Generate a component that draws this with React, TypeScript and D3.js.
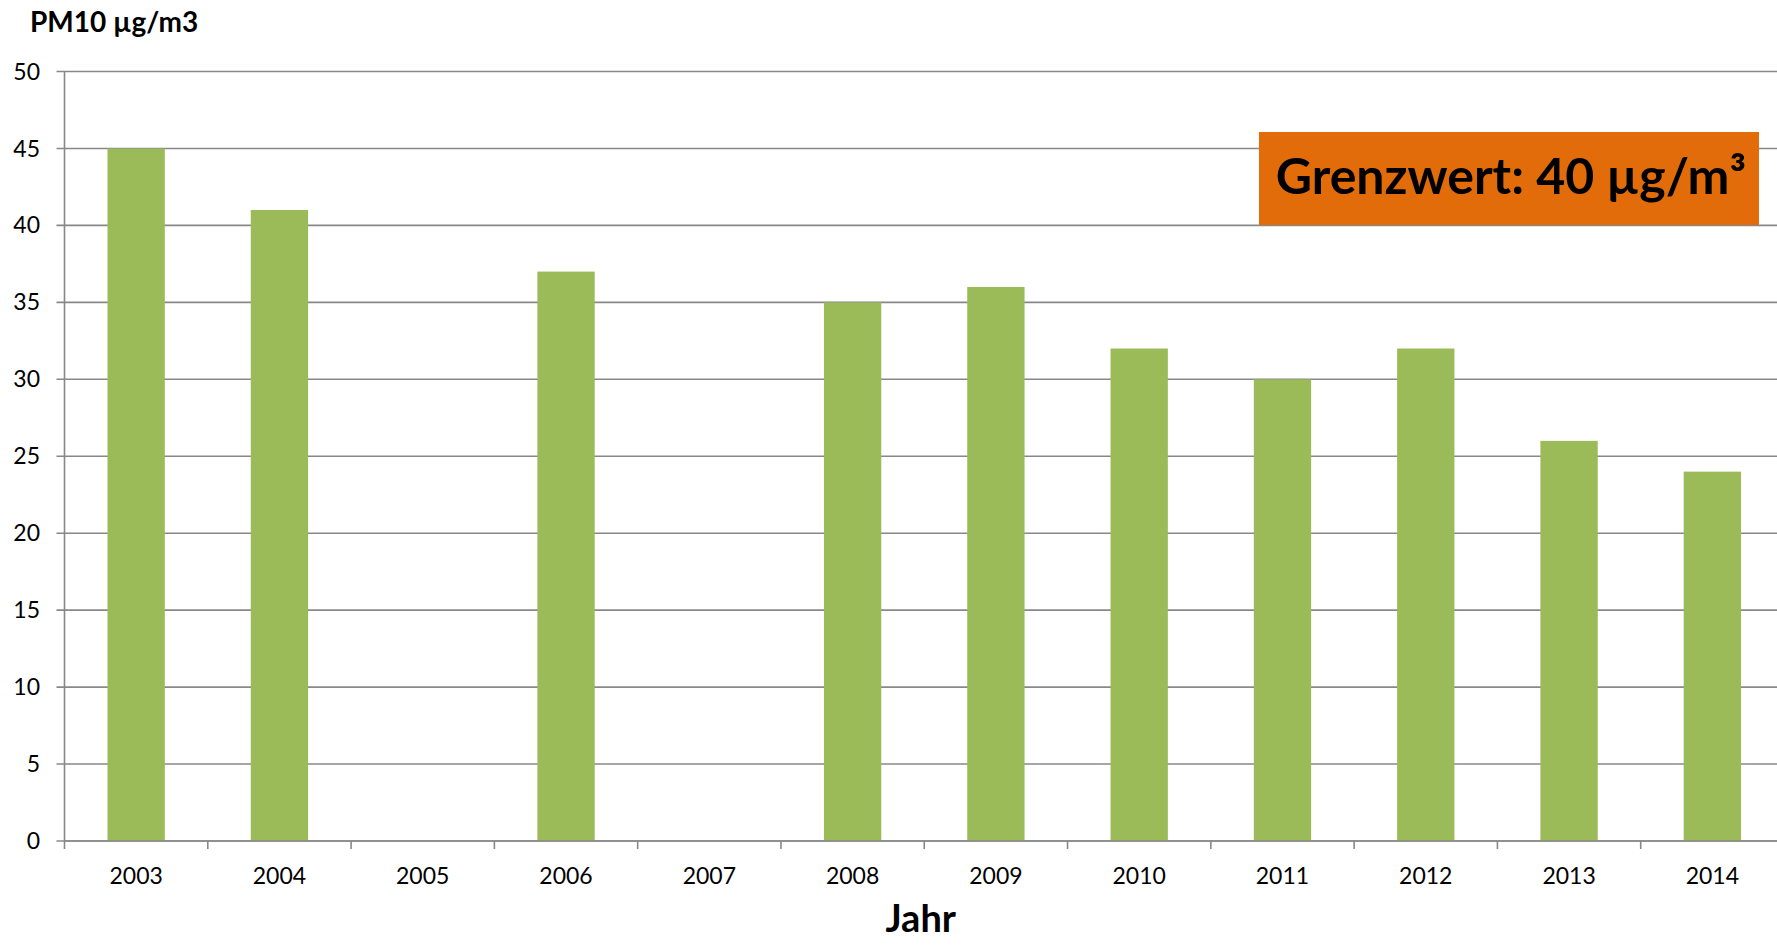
import { useMemo } from "react";
import * as d3 from "d3";

// PM10 annual mean by year; null = no measurement that year
const YEARS = ["2003", "2004", "2005", "2006", "2007", "2008", "2009", "2010", "2011", "2012", "2013", "2014"];
const PM10: (number | null)[] = [45, 41, null, 37, null, 35, 36, 32, 30, 32, 26, 24];
const Y_TICKS = [0, 5, 10, 15, 20, 25, 30, 35, 40, 45, 50];

const W = 1777;
const H = 945;
// the plot area runs a few pixels past the right edge of the image
const PLOT_RIGHT = 1784;
const M = { top: 71.5, bottom: 104, left: 64.5 };
const FONT = "Lato, 'Open Sans', sans-serif";
const GRID = "#888888";

export default function App() {
  const x = useMemo(
    () => d3.scaleBand<string>().domain(YEARS).range([M.left, PLOT_RIGHT]).paddingInner(0.6).paddingOuter(0.3),
    []
  );
  // boundaries between categories (for the tick marks)
  const band = useMemo(() => d3.scaleBand<string>().domain(YEARS).range([M.left, PLOT_RIGHT]), []);
  const y = useMemo(() => d3.scaleLinear().domain([0, 50]).range([H - M.bottom, M.top]), []);

  return (
    <div style={{ position: "fixed", left: 0, top: 0, width: W, height: H, background: "#fff" }}>
      <svg width={W} height={H} style={{ display: "block" }}>
        {/* gridlines + y ticks */}
        {Y_TICKS.map((t) => (
          <g key={t}>
            <line x1={M.left - 8} x2={W} y1={y(t)} y2={y(t)} stroke={GRID} strokeWidth={1.6} />
            <text
              x={40}
              y={y(t)}
              dy="0.35em"
              textAnchor="end"
              fontFamily={FONT}
              fontSize={23}
              fill="#000"
            >
              {t}
            </text>
          </g>
        ))}
        <line x1={M.left} x2={M.left} y1={y(50)} y2={y(0) + 8} stroke={GRID} strokeWidth={1.6} />

        {/* bars */}
        {YEARS.map((yr, i) => {
          const v = PM10[i];
          if (v == null) return null;
          return (
            <rect key={yr} x={x(yr)} y={y(v)} width={x.bandwidth()} height={y(0) - y(v)} fill="#9BBB59" />
          );
        })}

        {/* x axis line + ticks on top of bars */}
        <line x1={M.left} x2={W} y1={y(0)} y2={y(0)} stroke={GRID} strokeWidth={1.6} />
        {YEARS.map((yr) => (
          <line
            key={"t" + yr}
            x1={band(yr)! + band.bandwidth()}
            x2={band(yr)! + band.bandwidth()}
            y1={y(0)}
            y2={y(0) + 8}
            stroke={GRID}
            strokeWidth={1.6}
          />
        ))}
        {YEARS.map((yr) => (
          <text
            key={"l" + yr}
            x={band(yr)! + band.bandwidth() / 2}
            y={y(0) + 43}
            textAnchor="middle"
            fontFamily={FONT}
            fontSize={23}
            fill="#000"
          >
            {yr}
          </text>
        ))}

        {/* titles */}
        <text x={30} y={32} fontFamily={FONT} fontSize={28} fontWeight="bold" fill="#000">
          PM10 µg/m3
        </text>
        <text
          x={(M.left + W) / 2}
          y={932}
          textAnchor="middle"
          fontFamily={FONT}
          fontSize={38}
          fontWeight="bold"
          fill="#000"
        >
          Jahr
        </text>

        {/* limit value box */}
        <rect x={1259} y={132} width={500} height={93} fill="#E36C0A" />
        <text x={1511} y={194} textAnchor="middle" fontFamily={FONT} fontSize={50} fontWeight="bold" fill="#000">
          Grenzwert: 40 µg/m³
        </text>
      </svg>
    </div>
  );
}
